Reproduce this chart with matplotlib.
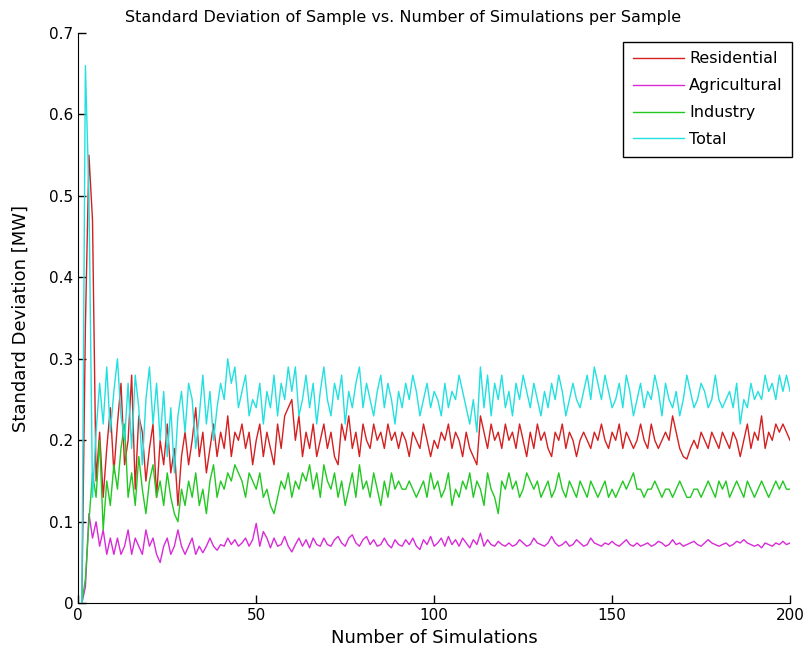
import matplotlib
matplotlib.use("Agg")
import matplotlib.pyplot as plt
import numpy as np

# Data (one value per number of simulations, 1..200)
n_sims = list(range(1, 201))

total = [
    0.00, 0.66, 0.50, 0.13, 0.21, 0.27, 0.22, 0.29, 0.21, 0.26,
    0.30, 0.23, 0.20, 0.27, 0.19, 0.28, 0.24, 0.17, 0.25, 0.29,
    0.22, 0.27, 0.20, 0.26, 0.18, 0.24, 0.16, 0.23, 0.26, 0.21,
    0.27, 0.25, 0.19, 0.23, 0.28, 0.22, 0.26, 0.20, 0.24, 0.27,
    0.25, 0.30, 0.27, 0.29, 0.24, 0.26, 0.28, 0.23, 0.25, 0.24,
    0.27, 0.22, 0.26, 0.24, 0.28, 0.23, 0.27, 0.25, 0.29, 0.26,
    0.29, 0.23, 0.25, 0.28, 0.24, 0.27, 0.22, 0.26, 0.29, 0.25,
    0.23, 0.27, 0.25, 0.28, 0.22, 0.26, 0.24, 0.27, 0.29, 0.24,
    0.27, 0.25, 0.23, 0.26, 0.28, 0.24, 0.27, 0.25, 0.22, 0.26,
    0.24, 0.27, 0.25, 0.28, 0.26, 0.23, 0.25, 0.27, 0.24, 0.26,
    0.25, 0.23, 0.27, 0.24, 0.26, 0.25, 0.28, 0.26, 0.24, 0.22,
    0.25, 0.21, 0.29, 0.24, 0.28, 0.23, 0.27, 0.25, 0.28, 0.24,
    0.26, 0.23, 0.27, 0.25, 0.28, 0.26, 0.24, 0.27, 0.25, 0.23,
    0.26, 0.24, 0.27, 0.25, 0.28, 0.26, 0.23, 0.25, 0.27, 0.25,
    0.24, 0.26, 0.28, 0.25, 0.29, 0.27, 0.25, 0.28, 0.26, 0.24,
    0.25, 0.27, 0.24, 0.28, 0.26, 0.23, 0.25, 0.27, 0.24, 0.26,
    0.25, 0.28, 0.26, 0.23, 0.27, 0.25, 0.24, 0.26, 0.23, 0.25,
    0.28, 0.26, 0.24, 0.25, 0.27, 0.26, 0.24, 0.25, 0.28, 0.25,
    0.24, 0.25, 0.26, 0.24, 0.27, 0.22, 0.25, 0.24, 0.27, 0.25,
    0.26, 0.25, 0.28, 0.26, 0.27, 0.25, 0.28, 0.26, 0.28, 0.26,
]

residential = [
    0.00, 0.34, 0.55, 0.47, 0.15, 0.21, 0.13, 0.19, 0.24, 0.16,
    0.22, 0.27, 0.17, 0.20, 0.28, 0.14, 0.23, 0.21, 0.15, 0.19,
    0.22, 0.13, 0.20, 0.17, 0.22, 0.16, 0.19, 0.12, 0.18, 0.21,
    0.17, 0.20, 0.24, 0.18, 0.21, 0.16, 0.19, 0.22, 0.18, 0.21,
    0.19, 0.23, 0.18, 0.21, 0.20, 0.22, 0.19, 0.21, 0.17, 0.20,
    0.22, 0.18, 0.21, 0.19, 0.17, 0.22, 0.19, 0.23, 0.24, 0.25,
    0.20, 0.23, 0.18, 0.21, 0.19, 0.22, 0.18, 0.20, 0.22, 0.19,
    0.21, 0.18, 0.17, 0.22, 0.20, 0.23, 0.19, 0.21, 0.18, 0.22,
    0.20, 0.19, 0.22, 0.20, 0.21, 0.19, 0.22, 0.20, 0.21, 0.19,
    0.21, 0.20, 0.18, 0.21, 0.20, 0.19, 0.22, 0.20, 0.18, 0.20,
    0.19, 0.21, 0.20, 0.22, 0.19, 0.21, 0.20, 0.18, 0.21, 0.19,
    0.18, 0.17, 0.23, 0.21, 0.19, 0.22, 0.20, 0.21, 0.19, 0.22,
    0.20, 0.21, 0.19, 0.22, 0.20, 0.18, 0.21, 0.19, 0.22, 0.20,
    0.21, 0.19, 0.18, 0.21, 0.20, 0.22, 0.19, 0.21, 0.20, 0.18,
    0.20, 0.21, 0.20, 0.19, 0.21, 0.20, 0.22, 0.20, 0.19, 0.21,
    0.20, 0.22, 0.19, 0.21, 0.20, 0.19, 0.20, 0.22, 0.20, 0.19,
    0.22, 0.20, 0.19, 0.20, 0.21, 0.20, 0.23, 0.21, 0.19, 0.18,
    0.177, 0.19, 0.20, 0.19, 0.21, 0.20, 0.19, 0.21, 0.20, 0.19,
    0.21, 0.20, 0.19, 0.21, 0.20, 0.18, 0.20, 0.22, 0.19, 0.21,
    0.20, 0.23, 0.19, 0.21, 0.20, 0.22, 0.21, 0.22, 0.21, 0.20,
]

industry = [
    0.00, 0.03, 0.10, 0.16, 0.13, 0.20, 0.09, 0.15, 0.12, 0.17,
    0.14, 0.19, 0.22, 0.13, 0.16, 0.12, 0.18, 0.14, 0.11, 0.15,
    0.17, 0.13, 0.15, 0.12, 0.16, 0.13, 0.11, 0.10, 0.14, 0.12,
    0.15, 0.13, 0.16, 0.12, 0.14, 0.11, 0.15, 0.17, 0.13, 0.15,
    0.14, 0.16, 0.15, 0.17, 0.16, 0.15, 0.13, 0.16, 0.15, 0.14,
    0.16, 0.13, 0.14, 0.12, 0.11, 0.13, 0.15, 0.14, 0.16, 0.13,
    0.15, 0.14, 0.16, 0.15, 0.17, 0.14, 0.16, 0.13, 0.17, 0.15,
    0.14, 0.16, 0.13, 0.15, 0.12, 0.14, 0.16, 0.13, 0.17, 0.14,
    0.15, 0.13, 0.16, 0.14, 0.12, 0.15, 0.13, 0.16, 0.14, 0.15,
    0.14, 0.14, 0.15, 0.14, 0.13, 0.14, 0.15, 0.13, 0.16, 0.14,
    0.15, 0.13, 0.14, 0.16, 0.12, 0.14, 0.13, 0.15, 0.14, 0.16,
    0.13, 0.15, 0.14, 0.12, 0.16, 0.14, 0.13, 0.11, 0.15, 0.14,
    0.16, 0.14, 0.15, 0.13, 0.14, 0.16, 0.15, 0.14, 0.15, 0.13,
    0.14, 0.15, 0.13, 0.14, 0.16, 0.14, 0.13, 0.15, 0.14, 0.13,
    0.15, 0.14, 0.13, 0.15, 0.14, 0.13, 0.14, 0.15, 0.13, 0.14,
    0.13, 0.14, 0.15, 0.14, 0.15, 0.16, 0.14, 0.14, 0.13, 0.14,
    0.14, 0.15, 0.14, 0.13, 0.14, 0.14, 0.13, 0.14, 0.15, 0.14,
    0.13, 0.13, 0.14, 0.14, 0.13, 0.14, 0.15, 0.14, 0.13, 0.15,
    0.14, 0.15, 0.13, 0.14, 0.15, 0.14, 0.13, 0.15, 0.14, 0.13,
    0.14, 0.15, 0.14, 0.13, 0.14, 0.15, 0.14, 0.15, 0.14, 0.14,
]

agricultural = [
    0.000, 0.020, 0.110, 0.080, 0.100, 0.070, 0.090, 0.060, 0.080, 0.060,
    0.080, 0.060, 0.070, 0.090, 0.060, 0.080, 0.070, 0.060, 0.090, 0.070,
    0.080, 0.060, 0.050, 0.070, 0.080, 0.060, 0.070, 0.090, 0.070, 0.060,
    0.070, 0.080, 0.060, 0.070, 0.062, 0.070, 0.080, 0.070, 0.065, 0.072,
    0.070, 0.080, 0.072, 0.078, 0.070, 0.074, 0.080, 0.070, 0.078, 0.098,
    0.070, 0.088, 0.080, 0.068, 0.080, 0.070, 0.072, 0.082, 0.070, 0.063,
    0.072, 0.080, 0.070, 0.078, 0.068, 0.080, 0.072, 0.070, 0.080, 0.072,
    0.070, 0.078, 0.082, 0.074, 0.070, 0.080, 0.084, 0.074, 0.070, 0.078,
    0.082, 0.072, 0.078, 0.070, 0.072, 0.080, 0.072, 0.068, 0.078, 0.072,
    0.070, 0.078, 0.072, 0.080, 0.070, 0.066, 0.078, 0.072, 0.082, 0.070,
    0.074, 0.080, 0.070, 0.082, 0.072, 0.078, 0.070, 0.080, 0.074, 0.068,
    0.078, 0.072, 0.086, 0.070, 0.078, 0.072, 0.070, 0.076, 0.072, 0.070,
    0.074, 0.070, 0.072, 0.078, 0.074, 0.070, 0.072, 0.080, 0.074, 0.072,
    0.070, 0.074, 0.082, 0.074, 0.070, 0.072, 0.076, 0.070, 0.072, 0.078,
    0.074, 0.070, 0.072, 0.080, 0.074, 0.072, 0.070, 0.074, 0.072, 0.076,
    0.072, 0.070, 0.074, 0.078, 0.072, 0.070, 0.074, 0.070, 0.072, 0.074,
    0.070, 0.072, 0.076, 0.074, 0.070, 0.072, 0.078, 0.072, 0.074, 0.070,
    0.072, 0.074, 0.076, 0.072, 0.070, 0.074, 0.078, 0.074, 0.072, 0.070,
    0.072, 0.074, 0.070, 0.072, 0.076, 0.074, 0.078, 0.074, 0.072, 0.070,
    0.072, 0.068, 0.074, 0.072, 0.070, 0.074, 0.072, 0.076, 0.072, 0.074,
]

series_names = ["Residential", "Agricultural", "Industry", "Total"]
series_colors = ["#d42020", "#d82ad8", "#22c822", "#22e0e0"]

fig = plt.figure(figsize=(8.07, 6.60), dpi=100)
ax = fig.add_axes([0.097, 0.086, 0.882, 0.864])

for vals, name, col in zip([residential, agricultural, industry, total], series_names, series_colors):
    ax.plot(n_sims, vals, color=col, linewidth=1.0, label=name)

ax.set_xlim(0, 200)
ax.set_ylim(0, 0.7)
ax.set_xticks([0, 50, 100, 150, 200])
ax.set_yticks(np.arange(0, 0.71, 0.1))
ax.set_yticklabels(["0", "0.1", "0.2", "0.3", "0.4", "0.5", "0.6", "0.7"])
ax.tick_params(direction="in", length=6, width=1, labelsize=11)
ax.spines["top"].set_visible(False)
ax.spines["right"].set_visible(False)

# title is centred on the figure, not on the axes
fig.suptitle("Standard Deviation of Sample vs. Number of Simulations per Sample",
             fontsize=11.5, x=0.5, y=0.973, va="center")
ax.set_xlabel("Number of Simulations", fontsize=13)
ax.set_ylabel("Standard Deviation [MW]", fontsize=13, labelpad=14)

# legend box sits a bit below the top, slightly past the right edge
leg = ax.legend(loc="upper right", bbox_to_anchor=(1.003, 0.985), fontsize=11.5,
                fancybox=False, edgecolor="black", handlelength=3.2, handletextpad=0.3,
                labelspacing=0.75, borderaxespad=0.0, borderpad=0.6, framealpha=1)
leg.get_frame().set_linewidth(1.0)

fig.savefig("out.png", dpi=100)
